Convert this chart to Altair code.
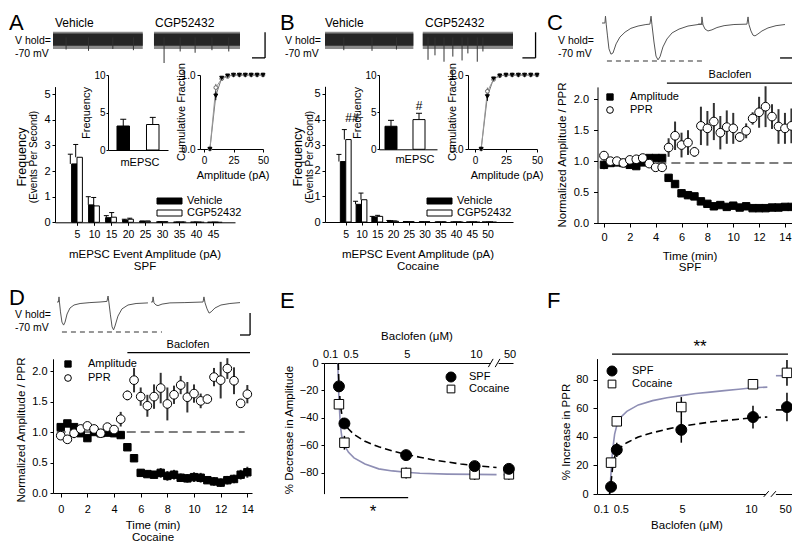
import altair as alt
import pandas as pd

W, H = 784, 535
FONT = "Liberation Sans"
FIT = "#8e8eb4"
TRACE = "#555555"

# ======================= DATA =======================
# ---- Panel A (SPF): mEPSC amplitude histogram
A_amp = [5, 10, 15, 20, 25, 30, 35, 40, 45]
A_veh = [2.28, 0.68, 0.18, 0.09, 0.04, 0.02, 0.01, 0.01, 0.005]
A_veh_err = [0.38, 0.32, 0.08, 0.03, 0.01, 0, 0, 0, 0]
A_cgp = [2.54, 0.64, 0.20, 0.12, 0.04, 0.02, 0.01, 0.005, 0.003]
A_cgp_err = [0.50, 0.33, 0.18, 0.04, 0.01, 0, 0, 0, 0]
GROUPS = ["Vehicle", "CGP52432"]
A_freq = [3.2, 3.4]
A_freq_err = [0.9, 0.95]
CUM_amp = [5, 10, 15, 20, 25, 30, 35, 40, 45, 50]
A_cum_veh = [0, 0.72, 0.96, 0.99, 1, 1, 1, 1, 1, 1]
A_cum_veh_err = [0, 0.06, 0.02, 0, 0, 0, 0, 0, 0, 0]
A_cum_cgp = [0, 0.83, 0.95, 0.98, 1, 1, 1, 1, 1, 1]
A_cum_cgp_err = [0, 0.05, 0.02, 0, 0, 0, 0, 0, 0, 0]
# noise traces (s, pA) and event spikes
A_tr_start = [0.0, 5.4]
A_tr_end = [4.8, 10.0]
A_spk_t = [0.7, 1.9, 3.2, 4.3, 5.94, 6.8, 7.6, 8.5, 9.4]
A_spk_v = [-19, -21, -18, -20, -40, -22, -24, -20, -22]

# ---- Panel B (Cocaine)
B_amp = [5, 10, 15, 20, 25, 30, 35, 40, 45, 50]
B_veh = [2.36, 0.69, 0.20, 0.05, 0.02, 0.005, 0, 0, 0, 0]
B_veh_err = [0.28, 0.12, 0.02, 0.01, 0, 0, 0, 0, 0, 0]
B_cgp = [3.22, 0.87, 0.22, 0.03, 0.01, 0.005, 0, 0, 0, 0]
B_cgp_err = [0.39, 0.26, 0.04, 0.01, 0, 0, 0, 0, 0, 0]
B_freq = [3.1, 4.0]
B_freq_err = [0.8, 0.85]
B_cum_veh = [0, 0.71, 0.95, 0.99, 1, 1, 1, 1, 1, 1]
B_cum_veh_err = [0, 0.06, 0.02, 0, 0, 0, 0, 0, 0, 0]
B_cum_cgp = [0, 0.78, 0.94, 0.99, 1, 1, 1, 1, 1, 1]
B_cum_cgp_err = [0, 0.05, 0.02, 0, 0, 0, 0, 0, 0, 0]
B_tr_start = [0.0, 5.2]
B_tr_end = [4.7, 10.0]
B_spk_t = [1.0, 2.5, 3.8, 5.48, 5.85, 6.33, 6.8, 7.29, 7.6, 8.1, 8.4]
B_spk_v = [-20, -21, -19, -35, -28, -38, -30, -36, -25, -38, -22]
TR_lo, TR_hi = -13, 6
TR_lo2, TR_hi2 = -18, 9

# ---- Panel C (SPF, baclofen time course)
C_t = [0, 0.5, 1, 1.5, 2, 2.5, 3, 3.5, 4, 4.5, 5, 5.5, 6, 6.5, 7, 7.5, 8, 8.5, 9, 9.5,
       10, 10.5, 11, 11.5, 12, 12.5, 13, 13.5, 14, 14.5]
C_amp = [0.94, 0.97, 0.98, 0.97, 0.94, 0.92, 0.98, 1.05, 1.05, 1.05, 0.73, 0.63, 0.48, 0.45, 0.43,
         0.35, 0.31, 0.27, 0.29, 0.26, 0.28, 0.25, 0.27, 0.24, 0.24, 0.24, 0.25, 0.25, 0.26, 0.26]
C_amp_err = [0.07, 0.04, 0.04, 0.04, 0.03, 0.05, 0.03, 0.03, 0.03, 0.03, 0.05, 0.05, 0.06, 0.06, 0.05,
             0.05, 0.04, 0.03, 0.03, 0.03, 0.03, 0.03, 0.03, 0.03, 0.03, 0.03, 0.03, 0.03, 0.03, 0.03]
C_ppr = [1.09, 1.00, 1.00, 0.97, 1.02, 1.03, 1.05, 0.96, 0.90, 0.90, 1.22, 1.41, 1.26, 1.30, 1.15,
         1.57, 1.53, 1.64, 1.46, 1.55, 1.53, 1.39, 1.49, 1.69, 1.79, 1.88, 1.72, 1.56, 1.53, 1.57]
C_ppr_err = [0.07, 0.04, 0.03, 0.03, 0.03, 0.05, 0.04, 0.04, 0.03, 0.03, 0.15, 0.23, 0.20, 0.20, 0.08,
             0.31, 0.28, 0.30, 0.27, 0.27, 0.25, 0.08, 0.12, 0.10, 0.25, 0.33, 0.20, 0.28, 0.25, 0.28]
# evoked EPSC traces (ms, pA)
C_tr1_t = [0, 1.6, 1.9, 2.3, 3.0, 3.8, 4.9, 6.0, 7.7, 9.8, 12.6, 15.8, 19.7, 24.0, 26.2, 26.8, 27.3,
           28.4, 29.5, 30.6, 31.7, 33.3, 35.5, 38.3, 42.1, 47.0, 52.5, 55.2]
C_tr1_v = [0, 0, 18, -3, -34, -68, -82, -79, -55, -37, -24, -14, -8, -4, -3, 18, -5,
           -50, -87, -97, -89, -63, -42, -26, -16, -8, -4, -3]
C_tr2_t = [52.5, 54.4, 54.6, 55.2, 56.3, 57.9, 60.1, 62.8, 66.7, 72.1, 79.2, 79.8, 80.3, 81.4, 82.5,
           83.6, 85.2, 87.4, 90.7, 95.1, 100]
C_tr2_v = [-3, -3, 16, -5, -16, -21, -18, -12, -7, -4, -3, 16, -4, -21, -32,
           -34, -29, -21, -13, -7, -4]

# ---- Panel D (Cocaine, baclofen time course)
D_t = [0, 0.5, 1, 1.5, 2, 2.5, 3, 3.5, 4, 4.5, 5, 5.5, 6, 6.5, 7, 7.5, 8, 8.5, 9, 9.5,
       10, 10.5, 11, 11.5, 12, 12.5, 13, 13.5, 14]
D_amp = [1.08, 1.14, 1.08, 0.98, 0.90, 1.00, 0.98, 0.99, 0.98, 0.95, 0.75, 0.57, 0.33, 0.31, 0.30,
         0.33, 0.28, 0.30, 0.25, 0.24, 0.26, 0.25, 0.21, 0.19, 0.17, 0.21, 0.23, 0.30, 0.34]
D_amp_err = [0.05, 0.04, 0.04, 0.05, 0.05, 0.04, 0.04, 0.04, 0.05, 0.06, 0.04, 0.05, 0.06, 0.06, 0.06,
             0.08, 0.08, 0.08, 0.07, 0.07, 0.08, 0.08, 0.06, 0.07, 0.07, 0.07, 0.07, 0.08, 0.09]
D_ppr = [0.94, 0.88, 0.98, 1.05, 1.10, 1.05, 0.98, 1.08, 1.04, 1.21, 1.60, 1.85, 1.58, 1.43, 1.58,
         1.72, 1.46, 1.61, 1.77, 1.57, 1.63, 1.51, 1.54, 1.90, 1.85, 2.04, 1.84, 1.47, 1.62]
D_ppr_err = [0.06, 0.06, 0.08, 0.04, 0.03, 0.04, 0.04, 0.04, 0.05, 0.12, 0.08, 0.20, 0.15, 0.18, 0.20,
             0.25, 0.27, 0.15, 0.15, 0.25, 0.15, 0.12, 0.07, 0.15, 0.30, 0.17, 0.22, 0.07, 0.15]
D_tr1_t = [0, 0.8, 1.1, 1.4, 1.9, 2.7, 3.6, 4.4, 5.5, 7.1, 9.3, 12.6, 18.0, 23.5, 27.3, 27.9, 28.4,
           29.2, 30.1, 30.9, 31.7, 33.3, 35.5, 38.8, 43.2, 49.7]
D_tr1_v = [0, 0, 17, -3, -33, -67, -77, -67, -40, -20, -10, -5, -2, 0, 2, 20, -3,
           -43, -83, -93, -80, -47, -23, -10, -5, -3]
D_tr2_t = [51.4, 52.2, 52.5, 53.0, 54.1, 55.2, 57.4, 61.7, 69.9, 79.8, 80.3, 80.9, 82.0, 83.1, 84.2,
           86.3, 89.6, 94.5, 100]
D_tr2_v = [0, 0, 17, -3, -10, -12, -7, -3, -2, 0, 17, -3, -23, -37, -33,
           -20, -10, -5, -2]

# ---- Panels E / F (dose response; 50 uM sits after an axis break)
CONC_LABELS = ["0.1", "0.5", "5", "10", "50"]
E_pos = [0.1, 0.5, 5, 10, 12.5]
E_spf = [-17, -44, -67, -75, -77]
E_spf_err = [2, 3, 3, 3, 3]
E_coc = [-30, -58, -80, -81, -81]
E_coc_err = [2, 5, 4, 4, 4]
E_fit_spf_x = [0.05, 0.1, 0.2, 0.35, 0.5, 0.8, 1.2, 2, 3, 4, 5, 6, 7, 8, 9, 10, 11, 11.6]
E_fit_spf_y = [0, -15, -30, -40, -44, -48, -52, -57, -61, -64, -66.5, -68.5, -70.5, -72, -73.5, -74.5, -75.5, -76]
E_fit_coc_x = [0.02, 0.05, 0.1, 0.2, 0.3, 0.5, 0.8, 1.2, 2, 3, 4, 5, 6, 8, 10, 11.6]
E_fit_coc_y = [0, -12, -26, -45, -53, -60, -65, -69, -73.5, -77, -78.5, -79.5, -80.2, -80.8, -81, -81.2]
E_tail_x = [12.1, 12.7]
E_tail_spf = [-77.5, -77.5]
E_tail_coc = [-81.3, -81.3]

F_pos = [0.1, 0.5, 5, 10, 12.37]
F_spf = [5, 31, 45, 54, 61]
F_spf_err = [3, 5, 9, 8, 10]
F_coc = [22, 51, 61, 77, 85]
F_coc_err = [3, 2, 7, 2, 9]
F_fit_x = [0.0, 0.1, 0.2, 0.35, 0.5, 0.8, 1.2, 2, 3, 4, 5, 6, 7, 8, 9, 10, 11]
F_fit_coc = [0, 15, 30, 42, 48, 54, 58, 62.5, 65.5, 67.5, 69, 70.5, 71.5, 72.5, 73.5, 74.5, 75]
F_fit_spf = [0, 8, 18, 26, 30, 33, 36, 40, 43, 45.5, 47.5, 49, 50.5, 51.5, 52.5, 53.5, 54]
F_tail_x = [11.6, 12.1]
F_tail_coc = [83, 83]
F_tail_spf = [59, 59]

# ======================= HELPERS =======================
layers = []
ONE = alt.Data(values=[{"k": 1}])


def SX(domain, a, b):
    return alt.Scale(domain=domain, range=[a - 8, b - 8], nice=False, zero=False)


def SY(domain, bottom, top):
    return alt.Scale(domain=domain, range=[bottom - 8, top - 8], nice=False, zero=False)


def axis(orient, pos, size=11, **kw):
    off = (pos - 8) - H if orient == "bottom" else -(pos - 8)
    base = dict(orient=orient, offset=off, grid=False, title=None, domainColor="black", domainWidth=1,
                tickColor="black", tickWidth=1, tickSize=3, labelColor="black", labelFont=FONT,
                labelFontSize=size, labelPadding=2, labelOverlap=False, labelFlush=False)
    base.update(kw)
    return alt.Axis(**base)


def X(f, sc, ax=None):
    return alt.X(f, type="quantitative", scale=sc, axis=ax)


def Y(f, sc, ax=None):
    return alt.Y(f, type="quantitative", scale=sc, axis=ax)


def text(s, x, y, size=11, angle=0, align="left", baseline="middle"):
    layers.append(alt.Chart(ONE).mark_text(text=s, font=FONT, fontSize=size, angle=angle, align=align,
                                           baseline=baseline, color="black")
                  .encode(x=alt.value(x - 8), y=alt.value(y - 8)))


def symbol(shape, x, y, size, filled):
    layers.append(alt.Chart(ONE).mark_point(shape=shape, size=size, filled=True,
                                            fill="black" if filled else "white", stroke="black",
                                            strokeWidth=1, opacity=1)
                  .encode(x=alt.value(x - 8), y=alt.value(y - 8)))


def swatch(x0, x1, y0, y1, fill):
    layers.append(alt.Chart(ONE).mark_rect(fill=fill, stroke="black", strokeWidth=1)
                  .encode(x=alt.value(x0 - 8), x2=alt.value(x1 - 8), y=alt.value(y0 - 8), y2=alt.value(y1 - 8)))


def hline(df, xf, x2f, yf, xs, ys, color="black", width=1, dash=None):
    kw = dict(color=color, strokeWidth=width)
    if dash:
        kw["strokeDash"] = dash
    layers.append(alt.Chart(df).mark_rule(**kw).encode(x=X(xf, xs), x2=alt.X2(x2f), y=Y(yf, ys)))


def vline(df, xf, yf, y2f, xs, ys, color="black", width=1, off=0):
    layers.append(alt.Chart(df).mark_rule(color=color, strokeWidth=width, xOffset=off)
                  .encode(x=X(xf, xs), y=Y(yf, ys), y2=alt.Y2(y2f)))


def curve(df, xf, yf, xs, ys, color="black", width=1, dash=None):
    kw = dict(color=color, strokeWidth=width)
    if dash:
        kw["strokeDash"] = dash
    layers.append(alt.Chart(df).mark_line(**kw).encode(x=X(xf, xs), y=Y(yf, ys)))


def points(df, xf, yf, xs, ys, shape, size, filled, stroke="black"):
    layers.append(alt.Chart(df).mark_point(shape=shape, size=size, filled=True,
                                           fill="black" if filled else "white", stroke=stroke,
                                           strokeWidth=1, opacity=1)
                  .encode(x=X(xf, xs), y=Y(yf, ys)))


def with_err(vals, errs):
    return [v - e for v, e in zip(vals, errs)], [v + e for v, e in zip(vals, errs)]


# ======================= PANEL BUILDERS =======================
def histogram(amps, veh, veh_err, cgp, cgp_err, xs, ys, xax, yax):
    df = pd.DataFrame({"amp": amps, "veh": veh, "cgp": cgp,
                       "veh_hi": with_err(veh, veh_err)[1], "cgp_hi": with_err(cgp, cgp_err)[1],
                       "base": 0.0})
    first = True
    for col, hi, fill, off in [("veh", "veh_hi", "black", -2.7), ("cgp", "cgp_hi", "white", 2.7)]:
        vline(df, "amp", col, hi, xs, ys, off=off)
        layers.append(alt.Chart(df).mark_tick(orient="horizontal", size=5, thickness=1, color="black",
                                              opacity=1, xOffset=off)
                      .encode(x=X("amp", xs), y=Y(hi, ys)))
        layers.append(alt.Chart(df).mark_bar(orient="vertical", size=5.4, xOffset=off, fill=fill,
                                             stroke="black", strokeWidth=1, opacity=1)
                      .encode(x=X("amp", xs, xax if first else None), y=Y(col, ys, yax if first else None),
                              y2=alt.Y2("base")))
        first = False


def freq_inset(vals, errs, xsc, ys, xax, yax):
    df = pd.DataFrame({"g": GROUPS, "v": vals, "hi": with_err(vals, errs)[1], "base": 0.0})
    for i, fill in enumerate(["black", "white"]):
        d = df.iloc[[i]]
        layers.append(alt.Chart(d).mark_rule(color="black", strokeWidth=1)
                      .encode(x=alt.X("g:N", scale=xsc, axis=None), y=Y("v", ys), y2=alt.Y2("hi")))
        layers.append(alt.Chart(d).mark_tick(orient="horizontal", size=6, thickness=1, color="black", opacity=1)
                      .encode(x=alt.X("g:N", scale=xsc, axis=None), y=Y("hi", ys)))
        layers.append(alt.Chart(d).mark_bar(fill=fill, stroke="black", strokeWidth=1, opacity=1)
                      .encode(x=alt.X("g:N", scale=xsc, axis=xax if i == 0 else None),
                              y=Y("v", ys, yax if i == 0 else None), y2=alt.Y2("base")))


def cum_inset(veh, veh_err, cgp, cgp_err, xs, ys, xax, yax):
    vlo, vhi = with_err(veh, veh_err)
    clo, chi = with_err(cgp, cgp_err)
    df = pd.DataFrame({"amp": CUM_amp, "veh": veh, "cgp": cgp, "vlo": vlo, "vhi": vhi, "clo": clo, "chi": chi})
    layers.append(alt.Chart(df).mark_line(color="#777777", strokeWidth=1)
                  .encode(x=X("amp", xs, xax), y=Y("veh", ys, yax)))
    curve(df, "amp", "cgp", xs, ys, color="#999999", width=1)
    vline(df, "amp", "vlo", "vhi", xs, ys)
    vline(df, "amp", "clo", "chi", xs, ys, color="#666666")
    points(df, "amp", "cgp", xs, ys, "circle", 14, False, stroke="#666666")
    points(df, "amp", "veh", xs, ys, "triangle-down", 16, True)


def noise_traces(starts, ends, spk_t, spk_v, xs, ys):
    df = pd.DataFrame({"s": starts, "e": ends, "lo": TR_lo, "hi": TR_hi, "lo2": TR_lo2, "hi2": TR_hi2})
    layers.append(alt.Chart(df).mark_rect(color="#8a8a8a")
                  .encode(x=X("s", xs), x2=alt.X2("e"), y=Y("lo2", ys), y2=alt.Y2("hi2")))
    layers.append(alt.Chart(df).mark_rect(color="#262626")
                  .encode(x=X("s", xs), x2=alt.X2("e"), y=Y("lo", ys), y2=alt.Y2("hi")))
    sp = pd.DataFrame({"t": spk_t, "v": spk_v, "top": 0.0})
    vline(sp, "t", "v", "top", xs, ys, color="#333333", width=1)


def time_course(t, amp, amp_err, ppr, ppr_err, xs, ys, xax, yax, ref):
    alo, ahi = with_err(amp, amp_err)
    plo, phi = with_err(ppr, ppr_err)
    df = pd.DataFrame({"t": t, "amp": amp, "alo": alo, "ahi": ahi, "ppr": ppr, "plo": plo, "phi": phi})
    hline(pd.DataFrame(ref), "x0", "x1", "y", xs, ys, color="#555555", width=1.3, dash=[9, 5])
    layers.append(alt.Chart(df).mark_rule(color="#333333", strokeWidth=2)
                  .encode(x=X("t", xs, xax), y=Y("alo", ys, yax), y2=alt.Y2("ahi")))
    points(df, "t", "amp", xs, ys, "square", 55, True)
    vline(df, "t", "plo", "phi", xs, ys, color="#333333", width=2)
    points(df, "t", "ppr", xs, ys, "circle", 75, False)


def evoked(tr1_t, tr1_v, tr2_t, tr2_v, xs, ys, dash, bar):
    curve(pd.DataFrame({"t": tr1_t, "v": tr1_v}), "t", "v", xs, ys, color=TRACE, width=1)
    curve(pd.DataFrame({"t": tr2_t, "v": tr2_v}), "t", "v", xs, ys, color=TRACE, width=1)
    hline(pd.DataFrame(dash), "x0", "x1", "y", xs, ys, color="#777777", width=1.3, dash=[5, 4])
    hline(pd.DataFrame({"x0": [bar[0]], "x1": [bar[1]], "y": [bar[2]]}), "x0", "x1", "y", xs, ys, width=1.3)
    vline(pd.DataFrame({"x": [bar[1]], "y0": [bar[2]], "y1": [bar[3]]}), "x", "y0", "y1", xs, ys, width=1.3)


def label_expr(positions, labels):
    expr = "''"
    for p, l in reversed(list(zip(positions, labels))):
        expr = f"abs(datum.value - ({p})) < 0.01 ? '{l}' : " + expr
    return expr


def dose(pos, spf, spf_err, coc, coc_err, fit_s, fit_c, tail_s, tail_c, xs, ys, xax, yax):
    slo, shi = with_err(spf, spf_err)
    clo, chi = with_err(coc, coc_err)
    df = pd.DataFrame({"x": pos, "spf": spf, "coc": coc, "slo": slo, "shi": shi, "clo": clo, "chi": chi})
    curve(pd.DataFrame(fit_c), "x", "y", xs, ys, color=FIT, width=1.6)
    curve(pd.DataFrame(tail_c), "x", "y", xs, ys, color=FIT, width=1.6)
    curve(pd.DataFrame(fit_s), "x", "y", xs, ys, color="black", width=1.6, dash=[7, 4])
    curve(pd.DataFrame(tail_s), "x", "y", xs, ys, color="black", width=1.6, dash=[7, 4])
    layers.append(alt.Chart(df).mark_rule(color="black", strokeWidth=1.5)
                  .encode(x=X("x", xs, xax), y=Y("clo", ys, yax), y2=alt.Y2("chi")))
    vline(df, "x", "slo", "shi", xs, ys, width=1.5)
    points(df, "x", "coc", xs, ys, "square", 90, False)
    points(df, "x", "spf", xs, ys, "circle", 120, True)


# ======================= PANEL A =======================
AX_ = SX([0, 50], 55, 235)
AY_ = SY([0, 5.3], 222.3, 86.6)
histogram(A_amp, A_veh, A_veh_err, A_cgp, A_cgp_err, AX_, AY_,
          axis("bottom", 222.3, size=10.5, values=A_amp, tickSize=3, labelPadding=4),
          axis("left", 55, size=11, values=[0, 1, 2, 3, 4, 5], labelPadding=2))
A1X = alt.Scale(domain=GROUPS, range=[100, 160], paddingInner=0.576, paddingOuter=0.305)
A1Y = SY([0, 10], 150, 75)
freq_inset(A_freq, A_freq_err, A1X, A1Y, axis("bottom", 150, labels=False, ticks=False),
           axis("left", 108, size=10, values=[0, 5, 10], tickSize=2, labelPadding=1))
A2X = SX([-3.4, 50], 200, 263)
A2Y = SY([0, 1], 149, 75)
cum_inset(A_cum_veh, A_cum_veh_err, A_cum_cgp, A_cum_cgp_err, A2X, A2Y,
          axis("bottom", 149, size=10, values=[0, 25, 50], labelPadding=3),
          axis("left", 200, size=10, values=[0, 1], labelPadding=2))
ATX = SX([0, 10], 53, 240)
ATY = SY([-40, 10], 63, 31)
noise_traces(A_tr_start, A_tr_end, A_spk_t, A_spk_v, ATX, ATY)
hline(pd.DataFrame({"x0": [10.64], "x1": [11.34], "y": [-32]}), "x0", "x1", "y", ATX, ATY, width=1.3)
vline(pd.DataFrame({"x": [11.34], "y0": [-32], "y1": [8]}), "x", "y0", "y1", ATX, ATY, width=1.3)

# ======================= PANEL B =======================
BX_ = SX([0, 56.5], 325, 513)
BY_ = SY([0, 5.3], 222.0, 86.3)
histogram(B_amp, B_veh, B_veh_err, B_cgp, B_cgp_err, BX_, BY_,
          axis("bottom", 222.0, size=10.5, values=B_amp, tickSize=3, labelPadding=4),
          axis("left", 325, size=11, values=[0, 1, 2, 3, 4, 5], labelPadding=2))
B1X = alt.Scale(domain=GROUPS, range=[371, 429], paddingInner=0.571, paddingOuter=0.321, align=0.333)
B1Y = SY([0, 10], 149.3, 75)
freq_inset(B_freq, B_freq_err, B1X, B1Y, axis("bottom", 149.3, labels=False, ticks=False),
           axis("left", 379, size=10, values=[0, 5, 10], tickSize=2, labelPadding=1))
B2X = SX([-5.6, 50], 468, 537)
B2Y = SY([0, 1], 149, 75)
cum_inset(B_cum_veh, B_cum_veh_err, B_cum_cgp, B_cum_cgp_err, B2X, B2Y,
          axis("bottom", 149, size=10, values=[0, 25, 50], labelPadding=3),
          axis("left", 468, size=10, values=[0, 1], labelPadding=2))
BTX = SX([0, 10], 325, 513)
noise_traces(B_tr_start, B_tr_end, B_spk_t, B_spk_v, BTX, ATY)
hline(pd.DataFrame({"x0": [10.5], "x1": [11.2], "y": [-32]}), "x0", "x1", "y", BTX, ATY, width=1.3)
vline(pd.DataFrame({"x": [11.2], "y0": [-32], "y1": [8]}), "x", "y0", "y1", BTX, ATY, width=1.3)

# ======================= PANEL C =======================
CX_ = SX([-0.5, 14.7], 597.5, 794)
CY_ = SY([0, 2.2], 223, 86.9)
time_course(C_t, C_amp, C_amp_err, C_ppr, C_ppr_err, CX_, CY_,
            axis("bottom", 223, values=[0, 2, 4, 6, 8, 10, 12, 14], tickSize=4, labelPadding=4),
            axis("left", 597.5, values=[0, 0.5, 1, 1.5, 2], format=".1f", tickSize=4, labelPadding=5),
            {"x0": [-0.2], "x1": [14.6], "y": [0.97]})
hline(pd.DataFrame({"x0": [4.87], "x1": [14.6], "y": [2.26]}), "x0", "x1", "y", CX_, CY_, width=1.2)
CTX = SX([0, 100], 602, 785)
CTY = SY([-100, 20], 61, 15.4)
evoked(C_tr1_t, C_tr1_v, C_tr2_t, C_tr2_v, CTX, CTY,
       {"x0": [2.7], "x1": [56.3], "y": [-100]}, [97.3, 104.4, -92, -26])

# ======================= PANEL D =======================
DX_ = SX([-0.58, 14.35], 53, 252)
DY_ = SY([0, 2.2], 493, 358.8)
time_course(D_t, D_amp, D_amp_err, D_ppr, D_ppr_err, DX_, DY_,
            axis("bottom", 493, values=[0, 2, 4, 6, 8, 10, 12, 14], tickSize=4, labelPadding=6),
            axis("left", 53, values=[0, 0.5, 1, 1.5, 2], format=".1f", tickSize=3, labelPadding=3),
            {"x0": [-0.3], "x1": [13.8], "y": [1.0]})
hline(pd.DataFrame({"x0": [5.0], "x1": [14.2], "y": [2.3]}), "x0", "x1", "y", DX_, DY_, width=1.2)
DTX = SX([0, 100], 57, 240)
DTY = SY([-110, 20], 335, 296)
evoked(D_tr1_t, D_tr1_v, D_tr2_t, D_tr2_v, DTX, DTY,
       {"x0": [2.7], "x1": [57.4], "y": [-100]}, [100, 105.5, -110, -37])

# ======================= PANEL E =======================
EX_ = SX([-0.99, 12.8], 324, 513)
EY_ = SY([-95, 0], 493.6, 363)
E_lbl_pos = [-0.55, 0.95, 5.05, 10.1, 12.55]
dose(E_pos, E_spf, E_spf_err, E_coc, E_coc_err,
     {"x": E_fit_spf_x, "y": E_fit_spf_y}, {"x": E_fit_coc_x, "y": E_fit_coc_y},
     {"x": E_tail_x, "y": E_tail_spf}, {"x": E_tail_x, "y": E_tail_coc}, EX_, EY_,
     axis("top", 363, values=E_lbl_pos, labelExpr=label_expr(E_lbl_pos, CONC_LABELS), ticks=False,
          tickSize=0, labelPadding=4),
     axis("left", 324, values=[0, -20, -40, -60, -80], tickSize=3, labelPadding=3))
# axis break marks
hline(pd.DataFrame({"x0": [11.15], "x1": [11.75], "y": [0]}), "x0", "x1", "y", EX_, EY_, color="white", width=3)
curve(pd.DataFrame({"x": [11.0, 11.35], "y": [-3, 3]}), "x", "y", EX_, EY_, width=1)
curve(pd.DataFrame({"x": [11.5, 11.85], "y": [-3, 3]}), "x", "y", EX_, EY_, width=1)
hline(pd.DataFrame({"x0": [0.18], "x1": [5.15], "y": [-98]}), "x0", "x1", "y", EX_, EY_, width=1.2)

# ======================= PANEL F =======================
FX_ = SX([-0.88, 12.7], 597, 791.7)
FY_ = SY([0, 95], 494, 358.6)
F_lbl_pos = [-0.6, 0.78, 5.05, 9.86, 12.25]
dose(F_pos, F_spf, F_spf_err, F_coc, F_coc_err,
     {"x": F_fit_x, "y": F_fit_spf}, {"x": F_fit_x, "y": F_fit_coc},
     {"x": F_tail_x, "y": F_tail_spf}, {"x": F_tail_x, "y": F_tail_coc}, FX_, FY_,
     axis("bottom", 494, values=F_lbl_pos, labelExpr=label_expr(F_lbl_pos, CONC_LABELS), ticks=False,
          tickSize=0, labelPadding=9),
     axis("left", 597, values=[0, 20, 40, 60, 80], tickSize=4, labelPadding=5))
hline(pd.DataFrame({"x0": [10.9], "x1": [11.6], "y": [0]}), "x0", "x1", "y", FX_, FY_, color="white", width=3)
curve(pd.DataFrame({"x": [10.75, 11.1], "y": [-2, 2]}), "x", "y", FX_, FY_, width=1)
curve(pd.DataFrame({"x": [11.25, 11.6], "y": [-2, 2]}), "x", "y", FX_, FY_, width=1)
hline(pd.DataFrame({"x0": [0.17], "x1": [12.44], "y": [98.2]}), "x0", "x1", "y", FX_, FY_, width=1.2)

# ======================= TEXT & LEGENDS =======================
for s, x, y in [("A", 9, 30), ("B", 280, 30), ("C", 547, 30), ("D", 9, 305), ("E", 280, 308), ("F", 547, 308)]:
    text(s, x, y, size=22, baseline="alphabetic")
# top row trace labels
text("Vehicle", 55, 23, size=12)
text("CGP52432", 155, 23, size=12)
text("Vehicle", 325, 23, size=12)
text("CGP52432", 425, 23, size=12)
for x, y in [(15, 41), (285, 41), (558, 41), (15, 315)]:
    text("V hold=", x, y, size=10.5)
    text("-70 mV", x, y + 12.5, size=10.5)
# A titles
text("Frequency", 22, 157, size=12.5, angle=270, align="center")
text("(Events Per Second)", 34, 157, size=10, angle=270, align="center")
text("mEPSC Event Amplitude (pA)", 145, 255, size=11.5, align="center")
text("SPF", 145, 267, size=11.5, align="center")
text("Frequency", 87, 113, size=11, angle=270, align="center")
text("mEPSC", 140, 163, size=11, align="center")
text("Cumulative Fraction", 182, 112, size=11, angle=270, align="center")
text("Amplitude (pA)", 233, 176, size=11, align="center")
swatch(157, 182, 198, 204, "black")
text("Vehicle", 187, 201, size=11)
swatch(157, 182, 210, 216, "white")
text("CGP52432", 187, 213, size=11)
# B titles
text("Frequency", 298, 157, size=12.5, angle=270, align="center")
text("(Events Per Second)", 310, 157, size=10, angle=270, align="center")
text("mEPSC Event Amplitude (pA)", 418, 255, size=11.5, align="center")
text("Cocaine", 418, 267, size=11.5, align="center")
text("Frequency", 358, 113, size=11, angle=270, align="center")
text("mEPSC", 415, 160, size=11, align="center")
text("Cumulative Fraction", 453, 112, size=11, angle=270, align="center")
text("Amplitude (pA)", 507, 176, size=11, align="center")
text("##", 352, 118, size=12, align="center")
text("#", 419, 106, size=12, align="center")
swatch(427, 452, 198, 204, "black")
text("Vehicle", 457, 201, size=11)
swatch(427, 452, 210, 216, "white")
text("CGP52432", 457, 213, size=11)
# C
text("Normalized Amplitude / PPR", 563, 155, size=11.5, angle=270, align="center")
text("Time (min)", 690, 257, size=11.5, align="center")
text("SPF", 690, 268, size=11.5, align="center")
text("Baclofen", 730, 75, size=11, align="center")
symbol("square", 610, 97, 40, True)
text("Amplitude", 630, 97, size=11)
symbol("circle", 610, 110, 45, False)
text("PPR", 630, 110, size=11)
# D
text("Normalized Amplitude / PPR", 22, 430, size=11.5, angle=270, align="center")
text("Time (min)", 153, 526, size=11.5, align="center")
text("Cocaine", 153, 541, size=11.5, align="center", baseline="alphabetic")
text("Baclofen", 188, 345, size=11, align="center")
symbol("square", 68, 364, 40, True)
text("Amplitude", 88, 364, size=11)
symbol("circle", 68, 378, 45, False)
text("PPR", 88, 378, size=11)
# E
text("% Decrease in Amplitude", 290, 430, size=11.5, angle=270, align="center")
text("Baclofen (\u03bcM)", 417, 337, size=11.5, align="center")
text("*", 373, 512, size=17, align="center")
symbol("circle", 451, 377, 100, True)
text("SPF", 469, 377, size=11)
symbol("square", 451, 389, 60, False)
text("Cocaine", 469, 389, size=11)
# F
text("% Increase in PPR", 567, 432, size=11.5, angle=270, align="center")
text("Baclofen (\u03bcM)", 687, 526, size=11.5, align="center")
text("**", 700, 347, size=17, align="center")
symbol("circle", 612, 371, 100, True)
text("SPF", 632, 371, size=11)
symbol("square", 612, 384, 60, False)
text("Cocaine", 632, 384, size=11)

chart = (alt.layer(*layers)
         .resolve_scale(x="independent", y="independent")
         .properties(width=W, height=H, padding=0, autosize=alt.AutoSizeParams(type="none"),
                     background="white")
         .configure_view(stroke=None)
         .configure_axis(grid=False))
chart.save("out.html", embed_options={"renderer": "svg", "actions": False})
